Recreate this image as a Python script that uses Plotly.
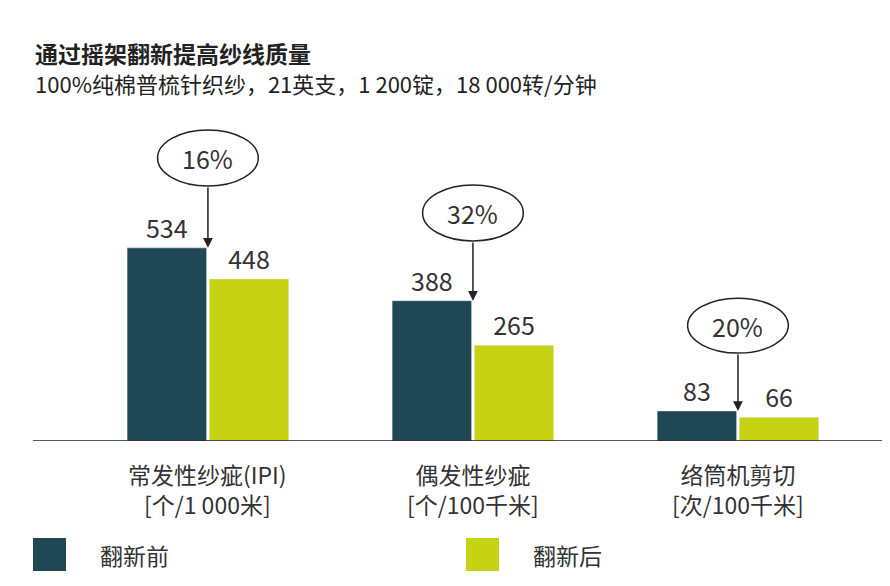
import plotly.graph_objects as go

cats = ["常发性纱疵(IPI)<br>[个/1 000米]", "偶发性纱疵<br>[个/100千米]", "络筒机剪切<br>[次/100千米]"]
before = [534, 388, 83]
after = [448, 265, 66]
pct = ["16%", "32%", "20%"]
names = ["翻新前", "翻新后"]
dark, lime = "#1f4854", "#c6d313"
F = "Noto Sans CJK SC"
xs = [0, 1, 2]
T = 93
H = 340
BASE = 433

def py(p):  # reference pixel y -> paper coordinate
    return (BASE - p) / H

fig = go.Figure()
fig.add_bar(x=xs, y=before, name=names[0], marker_color=dark, offset=-0.305, width=0.3,
            text=before, textposition="outside", textfont=dict(size=25, color="#333"), cliponaxis=False)
fig.add_bar(x=xs, y=after, name=names[1], marker_color=lime, offset=0.005, width=0.3,
            text=after, textposition="outside", textfont=dict(size=25, color="#333"), cliponaxis=False)

ell = [(860, 705), (708, 553), (395, 243)]
for i, (t, b) in enumerate(ell):
    fig.add_shape(type="circle", xref="x", yref="y", x0=xs[i]-0.19, x1=xs[i]+0.19, y0=b, y1=t,
                  line=dict(color="#222", width=1.5), fillcolor="white")
    fig.add_annotation(x=xs[i], y=(t+b)/2, text=pct[i], showarrow=False, font=dict(size=25, color="#333"))
    fig.add_annotation(x=xs[i], y=before[i], ax=xs[i], ay=b, axref="x", ayref="y", xref="x", yref="y",
                       text="", showarrow=True, arrowhead=2, arrowsize=1.3, arrowwidth=1.5, arrowcolor="#222")
    fig.add_annotation(x=xs[i], y=py(447), xref="x", yref="paper", text=cats[i], showarrow=False,
                       yanchor="top", font=dict(size=23, color="#333"))

fig.add_shape(type="line", xref="paper", yref="y", x0=0, x1=1, y0=0, y1=0, line=dict(color="#222", width=1.5))

for x0, c, n, tx in [(25, dark, names[0], 90), (458, lime, names[1], 523)]:
    fig.add_shape(type="rect", xref="paper", yref="paper", x0=(x0-25)/860, x1=(x0+33-25)/860,
                  y0=py(530), y1=py(563), fillcolor=c, line_width=0)
    fig.add_annotation(xref="paper", yref="paper", x=(tx-25)/860, y=py(547), yanchor="middle", text=n,
                       showarrow=False, xanchor="left", font=dict(size=23, color="#333"))

fig.add_annotation(xref="paper", yref="paper", x=0, y=py(45), xanchor="left", yanchor="middle",
                   text="<b>通过摇架翻新提高纱线质量</b>", showarrow=False, font=dict(size=23, color="#222"))
fig.add_annotation(xref="paper", yref="paper", x=0, y=py(75), xanchor="left", yanchor="middle",
                   text="100%纯棉普梳针织纱，21英支，1 200锭，18 000转/分钟", showarrow=False,
                   font=dict(size=22, color="#222"))

fig.update_layout(width=890, height=586, margin=dict(l=25, r=5, t=T, b=586-T-H),
                  plot_bgcolor="white", paper_bgcolor="white", showlegend=False,
                  font=dict(family=F), barmode="overlay")
fig.update_xaxes(range=[-0.66, 2.585], visible=False)
fig.update_yaxes(range=[0, H / 0.3617], visible=False)
fig.write_html("out.html")
